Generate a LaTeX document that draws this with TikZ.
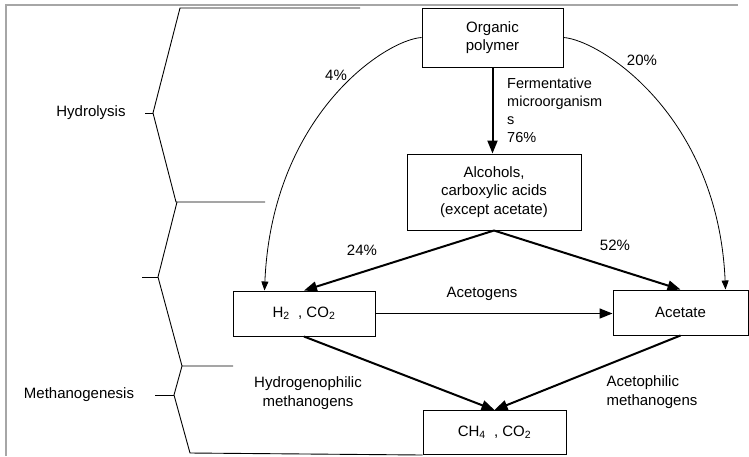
\documentclass[tikz,border=0pt]{standalone}
\usepackage{fontspec}
\setmainfont{Liberation Sans}
\usetikzlibrary{arrows.meta}

\begin{document}
\begin{tikzpicture}[x=1pt,y=-1pt,
    every node/.style={font=\fontsize{15}{18.5}\selectfont},
    box/.style={draw, line width=1pt, inner sep=0pt, align=center},
    flow/.style={line width=2pt, -{Triangle[length=13pt,width=10pt]}},
    side/.style={line width=0.8pt, -{Triangle[length=9pt,width=7pt]}},
    brace/.style={line width=0.9pt},
    frame/.style={line width=1.2pt, gray!70}]
                \useasboundingbox (0,0) rectangle (749,456);
                \draw[frame] (6,456) -- (6,5) -- (738,5);

                \node[box, minimum width=141pt, minimum height=59pt] (poly) at (492.5,37.5) {Organic\\polymer};
                \node[box, minimum width=174pt, minimum height=76pt] (alc) at (494,192) {Alcohols,\\carboxylic acids\\(except acetate)};
                \node[box, minimum width=142pt, minimum height=45pt] (hco) at (304,313.5) {H\textsubscript{2}\ \ , CO\textsubscript{2}};
                \node[box, minimum width=135pt, minimum height=45pt] (acet) at (680.5,312.5) {Acetate};
                \node[box, minimum width=143pt, minimum height=44pt] (ch4) at (494.5,432.5) {CH\textsubscript{4}\ \ , CO\textsubscript{2}};

                \node (hyd) at (91,113) {Hydrolysis};
                \node (meth) at (79,395) {Methanogenesis};
                \node (pfour) at (336,75) {4\%};
                \node (ptwenty) at (642,60) {20\%};
                \node[anchor=west, align=left, inner sep=0pt, font=\fontsize{14.5}{18}\selectfont] (ferm) at (507,110) {Fermentative\\microorganism\\s\\76\%};
                \node (ptwentyfour) at (362,250) {24\%};
                \node (pfiftytwo) at (615,245) {52\%};
                \node (acgen) at (482,294) {Acetogens};
                \node[align=center] (hydm) at (308,393) {Hydrogenophilic\\methanogens};
                \node[anchor=west, align=left] (acm) at (603,392) {Acetophilic\\methanogens};

                \draw[flow] (poly.south) -- (poly.south |- alc.north);
                \draw[flow] (alc.south) -- (hco.north);
                \draw[flow] (alc.south) -- (acet.north);
                \draw[flow, line width=1.5pt] (hco.east) -- (hco.east -| acet.west);
                \draw[flow] (hco.south) -- (ch4.north);
                \draw[flow] (acet.south) -- (ch4.north);

                \draw[side] (poly.west) .. controls (385,40) and (272,115) .. ([xshift=32pt]hco.north west);
                \draw[side] (poly.east) .. controls (600,40) and (718,115) .. ([xshift=-23pt]acet.north east);

                \draw[brace] (360,8) -- (180,8) -- (153,113) -- (176,202) -- (265,202);
                \draw[brace] (145,113) -- (153,113);
                \draw[brace] (177,202) -- (158,277) -- (182,366) -- (233,366);
                \draw[brace] (142,277) -- (158,277);
                \draw[brace] (182,366) -- (174,395) -- (190,453) -- (ch4.south west);
                \draw[brace] (155,395) -- (174,395);
                %\draw (6,456) -- (749,456);
\end{tikzpicture}
\end{document}
